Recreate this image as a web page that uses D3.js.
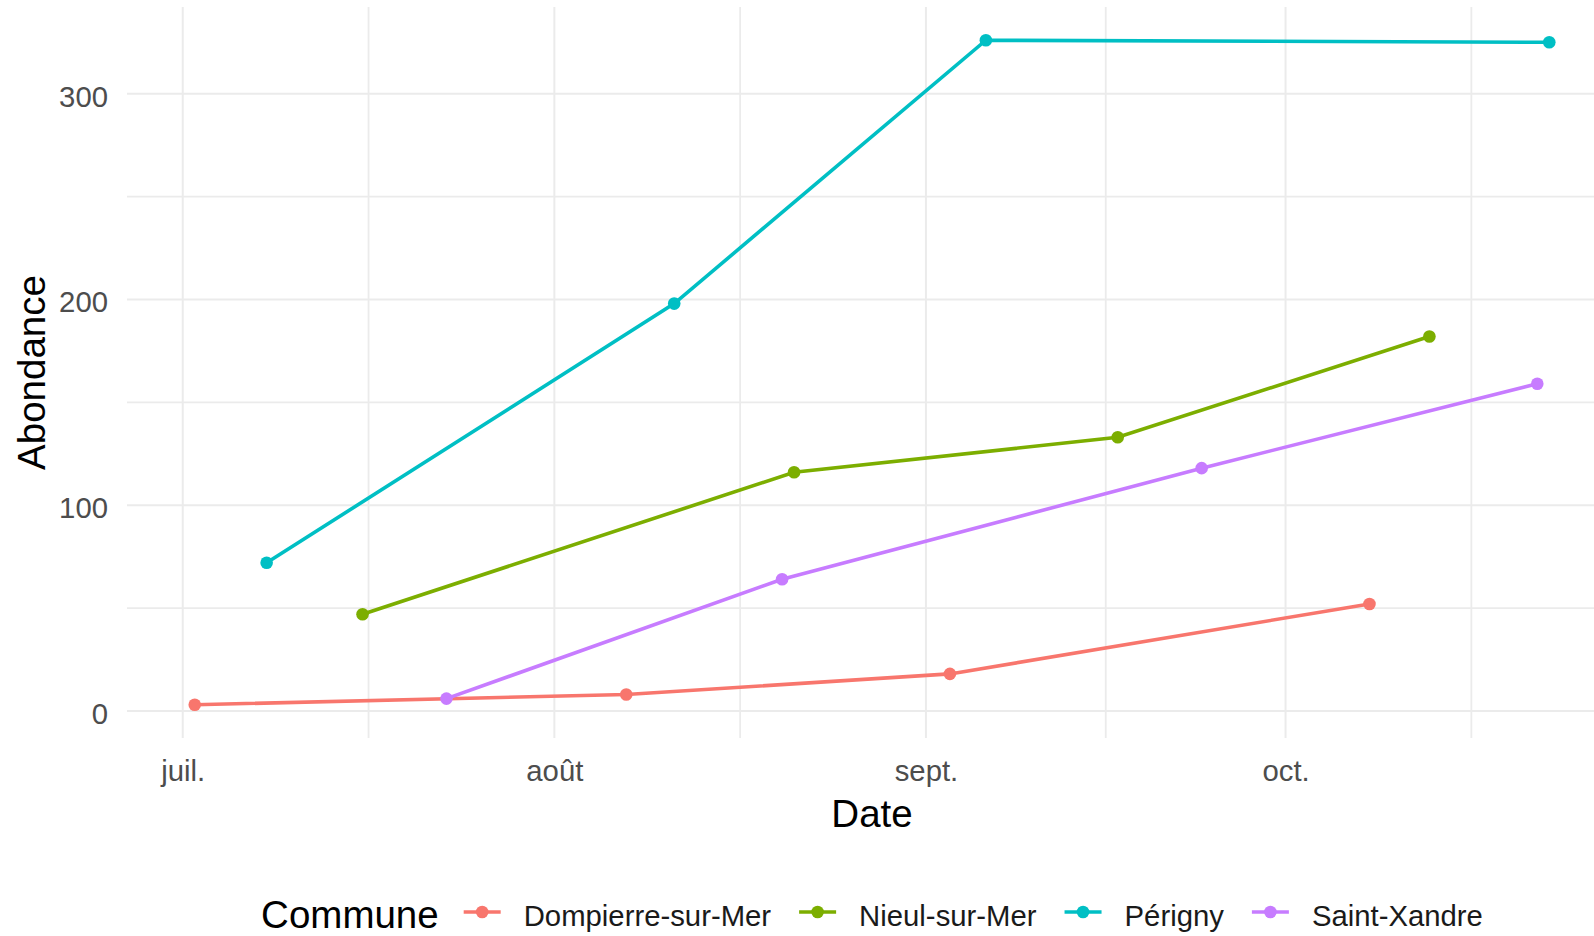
<!DOCTYPE html>
<html>
<head>
<meta charset="utf-8">
<script src="https://cdn.jsdelivr.net/npm/d3@7"></script>
<style>
  body { margin: 0; background: #fff; }
  svg { display: block; font-family: "Liberation Sans", Arial, sans-serif; }
</style>
</head>
<body>
<div class="chart"></div>
<script>
// data
const communes = ["Dompierre-sur-Mer", "Nieul-sur-Mer", "Périgny", "Saint-Xandre"];
const colors = ["#F8766D", "#7CAE00", "#00BFC4", "#C77CFF"];

const dompierreDates = ["2023-07-02", "2023-08-07", "2023-09-03", "2023-10-08"];
const dompierreValues = [3, 8, 18, 52];
const nieulDates = ["2023-07-16", "2023-08-21", "2023-09-17", "2023-10-13"];
const nieulValues = [47, 116, 133, 182];
const perignyDates = ["2023-07-08", "2023-08-11", "2023-09-06", "2023-10-23"];
const perignyValues = [72, 198, 326, 325];
const xandreDates = ["2023-07-23", "2023-08-20", "2023-09-24", "2023-10-22"];
const xandreValues = [6, 64, 118, 159];

const monthTicks = ["2023-07-01", "2023-08-01", "2023-09-01", "2023-10-01", "2023-11-01"];
const monthLabels = ["juil.", "août", "sept.", "oct.", "nov."];
const yTicks = [0, 100, 200, 300];
const yMinor = [50, 150, 250];

const width = 1594, height = 936;
const panel = {left: 127, right: 1617, top: 7, bottom: 738};

const parse = d3.utcParse("%Y-%m-%d");
const allDates = [dompierreDates, nieulDates, perignyDates, xandreDates];
const allValues = [dompierreValues, nieulValues, perignyValues, xandreValues];

const series = communes.map((c, i) => ({
    key: c,
    color: colors[i],
    values: allDates[i].map((d, j) => ({date: parse(d), value: allValues[i][j]}))
}));
const flat = series.flatMap(s => s.values);

// ggplot-like 5% expansion
const xExt = d3.extent(flat, d => d.date);
const xPad = (xExt[1] - xExt[0]) * 0.05;
const x = d3.scaleUtc()
    .domain([new Date(+xExt[0] - xPad), new Date(+xExt[1] + xPad)])
    .range([panel.left, panel.right]);

const yExt = d3.extent(flat, d => d.value);
const yPad = (yExt[1] - yExt[0]) * 0.05;
const y = d3.scaleLinear()
    .domain([yExt[0] - yPad, yExt[1] + yPad])
    .range([panel.bottom, panel.top]);

const svg = d3.select(".chart").append("svg")
    .attr("width", width)
    .attr("height", height);

const grid = svg.append("g").attr("class", "grid");

// minor x lines halfway between month starts
const majors = monthTicks.map(parse);
const minorX = [];
for (let i = 0; i < majors.length - 1; i++) {
    minorX.push((x(majors[i]) + x(majors[i + 1])) / 2);
}
grid.selectAll(".vminor").data(minorX.filter(v => v > panel.left && v < panel.right))
    .enter().append("line")
    .attr("x1", d => d).attr("x2", d => d)
    .attr("y1", panel.top).attr("y2", panel.bottom)
    .attr("stroke", "#EBEBEB").attr("stroke-width", 1.8);

grid.selectAll(".hminor").data(yMinor)
    .enter().append("line")
    .attr("x1", panel.left).attr("x2", panel.right)
    .attr("y1", d => y(d)).attr("y2", d => y(d))
    .attr("stroke", "#EBEBEB").attr("stroke-width", 1.8);

const visibleMonths = majors.filter(d => x(d) > panel.left && x(d) < panel.right);
grid.selectAll(".vmajor").data(visibleMonths)
    .enter().append("line")
    .attr("x1", d => x(d)).attr("x2", d => x(d))
    .attr("y1", panel.top).attr("y2", panel.bottom)
    .attr("stroke", "#EBEBEB").attr("stroke-width", 2);

grid.selectAll(".hmajor").data(yTicks)
    .enter().append("line")
    .attr("x1", panel.left).attr("x2", panel.right)
    .attr("y1", d => y(d)).attr("y2", d => y(d))
    .attr("stroke", "#EBEBEB").attr("stroke-width", 2);

// axes (no domain line, no ticks, like theme_minimal)
const xAxis = d3.axisBottom(x)
    .tickValues(visibleMonths)
    .tickSize(0)
    .tickPadding(0)
    .tickFormat(d => monthLabels[majors.findIndex(m => +m === +d)]);
svg.append("g")
    .attr("class", "axis x-axis")
    .attr("transform", "translate(0," + 781 + ")")
    .call(xAxis)
    .call(g => g.select(".domain").remove())
    .selectAll("text")
    .attr("dy", 0)
    .attr("y", 0)
    .attr("fill", "#4D4D4D")
    .style("font-size", "29.3px")
    .style("font-family", "'Liberation Sans', Arial, sans-serif");

const yAxis = d3.axisLeft(y)
    .tickValues(yTicks)
    .tickSize(0)
    .tickPadding(0);
svg.append("g")
    .attr("class", "axis y-axis")
    .attr("transform", "translate(108,0)")
    .call(yAxis)
    .call(g => g.select(".domain").remove())
    .selectAll("text")
    .attr("x", 0)
    .attr("dy", "0.42em")
    .attr("fill", "#4D4D4D")
    .style("font-size", "29.3px")
    .style("font-family", "'Liberation Sans', Arial, sans-serif");

// axis titles
svg.append("text")
    .attr("x", (panel.left + panel.right) / 2)
    .attr("y", 827)
    .attr("text-anchor", "middle")
    .style("font-size", "38.5px")
    .text("Date");

svg.append("text")
    .attr("transform", "translate(45," + ((panel.top + panel.bottom) / 2) + ") rotate(-90)")
    .attr("text-anchor", "middle")
    .style("font-size", "38.5px")
    .text("Abondance");

// lines and points
const line = d3.line()
    .x(d => x(d.date))
    .y(d => y(d.value));

const plot = svg.append("g").attr("class", "series");
plot.selectAll("path")
    .data(series)
    .enter().append("path")
    .attr("d", d => line(d.values))
    .attr("fill", "none")
    .attr("stroke", d => d.color)
    .attr("stroke-width", 3.6);

series.forEach(s => {
    plot.selectAll(null)
        .data(s.values)
        .enter().append("circle")
        .attr("cx", d => x(d.date))
        .attr("cy", d => y(d.value))
        .attr("r", 6.3)
        .attr("fill", s.color);
});

// legend at the bottom
const legend = svg.append("g").attr("class", "legend");
const title = legend.append("text")
    .attr("x", 0).attr("y", 928)
    .style("font-size", "38.5px")
    .text("Commune");
let cursor = title.node().getComputedTextLength() + 25;
const keyW = 37;
series.forEach(s => {
    legend.append("line")
        .attr("x1", cursor).attr("x2", cursor + keyW)
        .attr("y1", 912).attr("y2", 912)
        .attr("stroke", s.color).attr("stroke-width", 3.6);
    legend.append("circle")
        .attr("cx", cursor + keyW / 2).attr("cy", 912)
        .attr("r", 6.3).attr("fill", s.color);
    cursor += keyW + 23;
    const t = legend.append("text")
        .attr("x", cursor).attr("y", 926)
        .attr("fill", "#1a1a1a")
        .style("font-size", "29.3px")
        .text(s.key);
    cursor += t.node().getComputedTextLength() + 28;
});
cursor -= 28;
const legendLeft = (panel.left + panel.right) / 2 - cursor / 2;
legend.attr("transform", "translate(" + legendLeft + ",0)");
</script>
</body>
</html>
